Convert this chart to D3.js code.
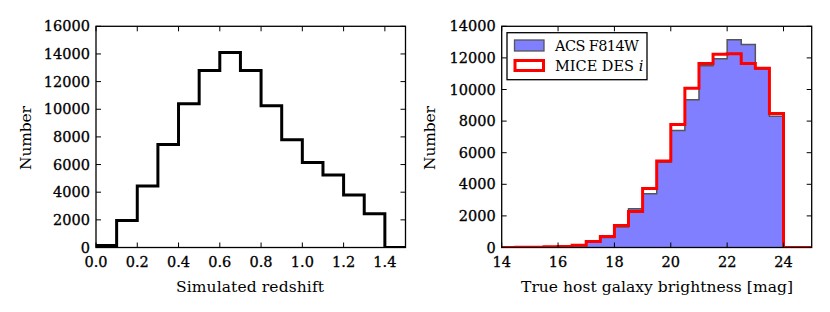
<!DOCTYPE html>
<html><head><meta charset="utf-8">
<script src="https://cdn.jsdelivr.net/npm/d3@7"></script>
<style>
body{margin:0;background:#fff;}
svg text{font-family:"DejaVu Serif",serif;fill:#000;}
.tick{stroke:#000;stroke-width:0.3px;}
</style></head><body>
<svg id="c" width="830" height="312"></svg>
<script>
// ---- data ----
const zEdges = [0.0,0.1,0.2,0.3,0.4,0.5,0.6,0.7,0.8,0.9,1.0,1.1,1.2,1.3,1.4,1.5];
const zCounts = [150,1950,4450,7450,10400,12800,14100,12800,10250,7800,6150,5250,3800,2450,0];
const zTicks = [0.0,0.2,0.4,0.6,0.8,1.0,1.2,1.4];
const zYTicks = [0,2000,4000,6000,8000,10000,12000,14000,16000];

const magEdges = [14,14.5,15,15.5,16,16.5,17,17.5,18,18.5,19,19.5,20,20.5,21,21.5,22,22.5,23,23.5,24,24.5,25];
const acsCounts = [3,8,15,30,50,120,330,640,1300,2450,3400,5400,7400,9350,11500,11950,13150,12850,11300,8300,0,0];
const miceCounts = [5,10,20,40,60,150,380,700,1390,2280,3730,5480,7780,10080,11640,12230,12270,11640,11340,8480,0,0];
const magTicks = [14,16,18,20,22,24];
const magYTicks = [0,2000,4000,6000,8000,10000,12000,14000];
const legendLabels = ["ACS F814W","MICE DES "];

const svg = d3.select("#c");

function stepPath(x, y, edges, counts){
  const pts = [[edges[0], 0]];
  counts.forEach((c,i)=>{ pts.push([edges[i],c]); pts.push([edges[i+1],c]); });
  pts.push([edges[edges.length-1],0]);
  return d3.line().x(d=>x(d[0])).y(d=>y(d[1]))(pts);
}

function axesFrame(g, x, y, xTicks, yTicks, xFmt){
  const [x0,x1] = x.range(), [y0,y1] = y.range();
  const tl = 5;
  xTicks.forEach(t=>{
    g.append("line").attr("x1",x(t)).attr("x2",x(t)).attr("y1",y0).attr("y2",y0-tl).attr("stroke","#000").attr("stroke-width",1);
    g.append("line").attr("x1",x(t)).attr("x2",x(t)).attr("y1",y1).attr("y2",y1+tl).attr("stroke","#000").attr("stroke-width",1);
    g.append("text").attr("class","tick").attr("x",x(t)).attr("y",y0+19).attr("text-anchor","middle").attr("font-size",14.5).text(xFmt(t));
  });
  yTicks.forEach(t=>{
    g.append("line").attr("x1",x0).attr("x2",x0+tl).attr("y1",y(t)).attr("y2",y(t)).attr("stroke","#000").attr("stroke-width",1);
    g.append("line").attr("x1",x1).attr("x2",x1-tl).attr("y1",y(t)).attr("y2",y(t)).attr("stroke","#000").attr("stroke-width",1);
    g.append("text").attr("class","tick").attr("x",x0-6).attr("y",y(t)+5).attr("text-anchor","end").attr("font-size",14.5).text(t);
  });
  g.append("rect").attr("x",x0).attr("y",y1).attr("width",x1-x0).attr("height",y0-y1)
    .attr("fill","none").attr("stroke","#000").attr("stroke-width",1.3);
}

// ---- left panel ----
{
  const x = d3.scaleLinear().domain([0,1.5]).range([96,405.5]);
  const y = d3.scaleLinear().domain([0,16000]).range([247.5,26.3]);
  const g = svg.append("g");
  svg.append("clipPath").attr("id","clipL").append("rect").attr("x",96).attr("y",26.3).attr("width",309.5).attr("height",221.2);
  g.append("path").attr("d",stepPath(x,y,zEdges,zCounts)).attr("fill","none").attr("stroke","#000").attr("stroke-width",3).attr("clip-path","url(#clipL)");
  axesFrame(g,x,y,zTicks,zYTicks,d3.format(".1f"));
  g.append("text").attr("x",(176+324)/2).attr("y",292).attr("text-anchor","middle").attr("font-size",15.5).attr("textLength",148).text("Simulated redshift");
  g.append("text").attr("transform","translate(31,"+(106+170)/2+") rotate(-90)").attr("text-anchor","middle").attr("font-size",15.5).attr("textLength",64).text("Number");
}

// ---- right panel ----
{
  const x = d3.scaleLinear().domain([14,25]).range([501.7,811.7]);
  const y = d3.scaleLinear().domain([0,14000]).range([247.5,26.3]);
  const g = svg.append("g");
  svg.append("clipPath").attr("id","clipR").append("rect").attr("x",501.7).attr("y",26.3).attr("width",310).attr("height",221.2);
  g.append("path").attr("d",stepPath(x,y,magEdges,acsCounts)).attr("fill","#7f7fff").attr("stroke","#555").attr("stroke-width",1.5).attr("clip-path","url(#clipR)");
  g.append("path").attr("d",stepPath(x,y,magEdges,miceCounts)).attr("fill","none").attr("stroke","#ff0000").attr("stroke-width",3).attr("clip-path","url(#clipR)");
  axesFrame(g,x,y,magTicks,magYTicks,d3.format("d"));
  g.append("text").attr("x",(521+793)/2).attr("y",292).attr("text-anchor","middle").attr("font-size",15.5).attr("textLength",272).text("True host galaxy brightness [mag]");
  g.append("text").attr("transform","translate(435,"+(106+170)/2+") rotate(-90)").attr("text-anchor","middle").attr("font-size",15.5).attr("textLength",64).text("Number");
  // legend
  const lg = g.append("g");
  lg.append("rect").attr("x",507).attr("y",32.7).attr("width",140).attr("height",47).attr("fill","#fff").attr("stroke","#000").attr("stroke-width",1.3);
  lg.append("rect").attr("x",514.5).attr("y",40).attr("width",29.5).attr("height",11).attr("fill","#7f7fff").attr("stroke","#555").attr("stroke-width",1.3);
  lg.append("rect").attr("x",515).attr("y",60.5).attr("width",28.5).attr("height",10).attr("fill","#fff").attr("stroke","#ff0000").attr("stroke-width",3);
  lg.append("text").attr("x",555).attr("y",51).attr("font-size",14.5).attr("textLength",84).text(legendLabels[0]);
  const t2 = lg.append("text").attr("x",555).attr("y",71).attr("font-size",14.5).text(legendLabels[1]);
  t2.append("tspan").attr("font-style","italic").text("i");
}
</script>
</body></html>
